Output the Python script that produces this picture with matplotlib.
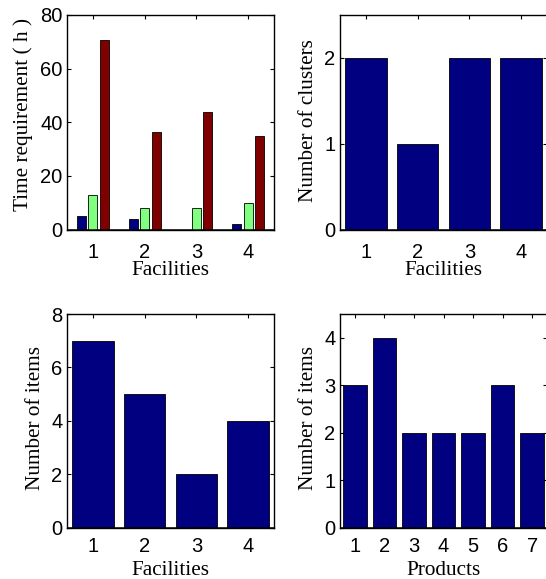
import numpy as np
from matplotlib import pyplot as plt

facilities = [1, 2, 3, 4]
products = [1, 2, 3, 4, 5, 6, 7]

time_blue = [5, 4, 0, 2]
time_green = [13, 8, 8, 10]
time_red = [70.5, 36.5, 44, 34.7]

clusters = [2, 1, 2, 2]
items_facility = [7, 5, 2, 4]
items_product = [3, 4, 2, 2, 2, 3, 2]

W, H = 546, 579
NAVY = "#000080"
TICK_FONT = "Liberation Sans"
LABEL_FONT = "Liberation Serif"


def make_axes(fig, left, top, right, bottom):
	return fig.add_axes([left / W, 1 - bottom / H, (right - left) / W, (bottom - top) / H])


def style(ax, xlim, ylim, yticks, xlabel, ylabel, xpad, xlab_y, ylab_x, ylab_y):
	ax.set_xlim(*xlim)
	ax.set_ylim(*ylim)
	ax.set_yticks(yticks)
	ax.tick_params(direction="in", length=3, width=0.8, top=True, right=True, labelsize=14.5)
	ax.tick_params(axis="x", pad=xpad)
	ax.tick_params(axis="y", pad=3.3)
	for lab in ax.get_xticklabels() + ax.get_yticklabels():
		lab.set_fontfamily(TICK_FONT)
	ax.set_xlabel(xlabel, family=LABEL_FONT, fontsize=15.3, va="baseline")
	ax.set_ylabel(ylabel, family=LABEL_FONT, fontsize=15.3, va="baseline")
	ax.xaxis.set_label_coords(0.5, xlab_y)
	ax.yaxis.set_label_coords(ylab_x, ylab_y)
	for s in ax.spines.values():
		s.set_linewidth(1.0)
	ax.axhline(0, color="black", lw=1.8, zorder=5)


def bars(ax, xs, vals, width, color):
	# zorder above the axis so the bottom ticks hide behind the bars
	ax.bar(xs, vals, width, color=color, edgecolor="black", lw=0.6, zorder=3)


fig = plt.figure(figsize=(W / 100, H / 100), dpi=100)

# grouped bars (MATLAB style layout)
ax1 = make_axes(fig, 67, 15, 274, 229.5)
x = np.array(facilities)
off = 0.222
bw = 0.178
bars(ax1, x - off, time_blue, bw, NAVY)
bars(ax1, x, time_green, bw, "#80ff80")
bars(ax1, x + off, time_red, bw, "#800000")
ax1.set_xticks(facilities)
style(ax1, (0.5, 4.5), (0, 80), [0, 20, 40, 60, 80], "Facilities", "Time requirement ( h )",
	9.5, -0.213, -0.19, 0.535)

ax2 = make_axes(fig, 340, 15, 547, 229.5)
bars(ax2, facilities, clusters, 0.8, NAVY)
ax2.set_xticks(facilities)
style(ax2, (0.5, 4.5), (0, 2.5), [0, 1, 2], "Facilities", "Number of clusters",
	9.5, -0.213, -0.13, 0.51)

ax3 = make_axes(fig, 67, 314, 274, 527.7)
bars(ax3, facilities, items_facility, 0.8, NAVY)
ax3.set_xticks(facilities)
style(ax3, (0.5, 4.5), (0, 8), [0, 2, 4, 6, 8], "Facilities", "Number of items",
	6.8, -0.22, -0.13, 0.515)

ax4 = make_axes(fig, 340, 314, 547, 527.7)
bars(ax4, products, items_product, 0.8, NAVY)
ax4.set_xticks(products)
style(ax4, (0.5, 7.5), (0, 4.5), [0, 1, 2, 3, 4], "Products", "Number of items",
	6.8, -0.22, -0.13, 0.515)

fig.savefig("out.png", dpi=100)
